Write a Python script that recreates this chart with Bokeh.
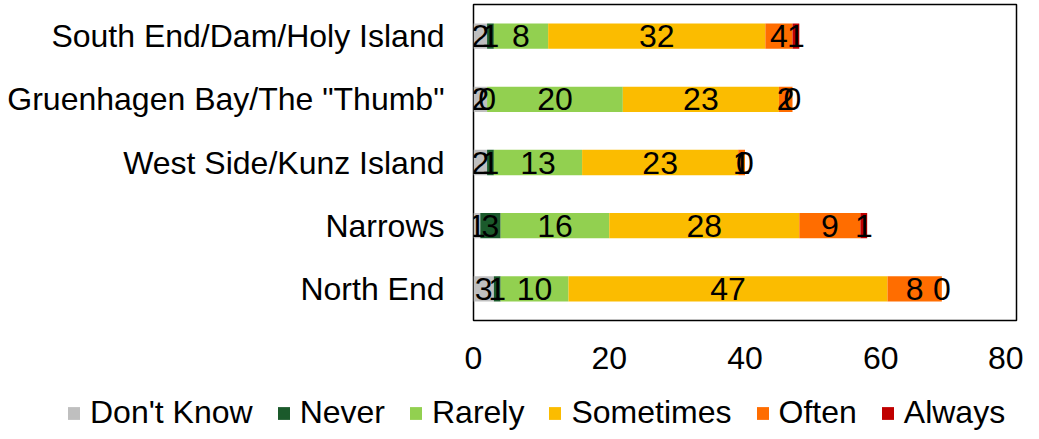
from bokeh.plotting import figure
from bokeh.models import ColumnDataSource, LabelSet, Legend, LegendItem, FixedTicker, Range1d
from bokeh.core.properties import value
from bokeh.embed import file_html
from bokeh.resources import INLINE

categories = ["North End", "Narrows", "West Side/Kunz Island", "Gruenhagen Bay/The \"Thumb\"", "South End/Dam/Holy Island"]
series = ["Don't Know", "Never", "Rarely", "Sometimes", "Often", "Always"]
dont_know = [3, 1, 2, 2, 2]
never = [1, 3, 1, 0, 1]
rarely = [10, 16, 13, 20, 8]
sometimes = [47, 28, 23, 23, 32]
often = [8, 9, 1, 2, 4]
always = [0, 1, 0, 0, 1]
colors = ["#BFBFBF", "#1B5A2B", "#92D050", "#FBBC00", "#FF6D00", "#C00000"]
x_ticks = [0, 20, 40, 60, 80]

FONT = "Liberation Sans"
FS = "32px"

p = figure(y_range=categories, x_range=Range1d(0, 80), output_backend="svg", toolbar_location=None,
           width=1023, height=376,
           min_border_left=473, min_border_right=7, min_border_top=4, min_border_bottom=56)

values = [dont_know, never, rarely, sometimes, often, always]
data = {"cat": categories}
for s, v in zip(series, values):
    data[s] = v
src = ColumnDataSource(data)
renderers = p.hbar_stack(series, y="cat", height=0.4, color=colors, source=src, line_color=None)

# labels
left = [0] * len(categories)
for s, v in zip(series, values):
    mids = [l + x / 2 for l, x in zip(left, v)]
    lsrc = ColumnDataSource(dict(x=mids, y=categories, t=[str(x) for x in v]))
    p.add_layout(LabelSet(x="x", y="y", text="t", source=lsrc, text_align="center", text_baseline="middle",
                          text_font=value(FONT), text_font_size=value(FS), text_color="black"))
    left = [l + x for l, x in zip(left, v)]

p.xgrid.visible = False
p.ygrid.visible = False
p.outline_line_color = "black"
p.outline_line_width = 1.5

p.xaxis.ticker = FixedTicker(ticks=x_ticks)
p.xaxis.axis_line_color = None
p.xaxis.major_tick_line_color = None
p.xaxis.minor_tick_line_color = None
p.xaxis.major_label_text_font = FONT
p.xaxis.major_label_text_font_size = FS
p.xaxis.major_label_text_color = "black"
p.xaxis.major_label_standoff = 20

p.yaxis.axis_line_color = None
p.yaxis.major_tick_line_color = None
p.yaxis.minor_tick_line_color = None
p.yaxis.major_label_text_font = FONT
p.yaxis.major_label_text_font_size = FS
p.yaxis.major_label_text_color = "black"
p.yaxis.major_label_standoff = 23

# legend figure (bars kept out of its view; only the legend shows)
lf = figure(y_range=categories, x_range=Range1d(-200, -100), output_backend="svg", toolbar_location=None,
            width=1023, height=55, min_border=0, outline_line_color=None)
lf.axis.visible = False
lf.grid.visible = False
lrs = lf.hbar_stack(series, y="cat", height=0.4, color=colors, source=src, line_color=None)
legend = Legend(items=[LegendItem(label=s, renderers=[r]) for s, r in zip(series, lrs)],
                orientation="horizontal", label_text_font=FONT, label_text_font_size=FS,
                label_text_color="black",
                glyph_width=15, glyph_height=16, label_standoff=9, spacing=23,
                border_line_color=None, background_fill_alpha=0, padding=0, margin=0,
                location=(66, 0))
lf.add_layout(legend, "center")

open("out.html", "w").write(file_html([p, lf], INLINE))
